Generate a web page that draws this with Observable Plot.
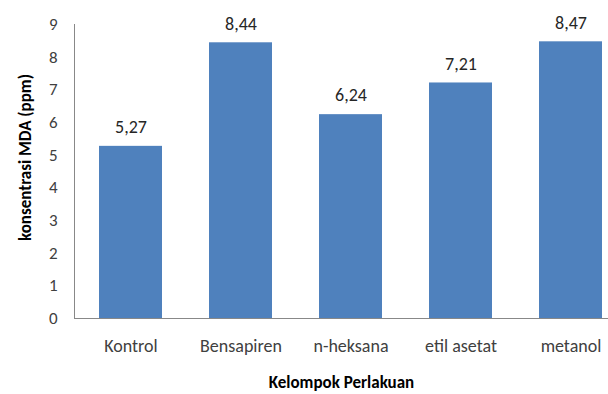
<!DOCTYPE html>
<html>
<head>
<meta charset="utf-8">
<script src="https://cdn.jsdelivr.net/npm/d3@7"></script>
<script src="https://cdn.jsdelivr.net/npm/@observablehq/plot@0.6"></script>
<style>
  html, body { margin: 0; padding: 0; background: #fff; }
  svg { font-family: Carlito, Lato, "Open Sans", sans-serif; }
</style>
</head>
<body>
<div id="chart"></div>
<script>
const categories = ["Kontrol", "Bensapiren", "n-heksana", "etil asetat", "metanol"];
const values = [5.27, 8.44, 6.24, 7.21, 8.47];
const yTicks = [0, 1, 2, 3, 4, 5, 6, 7, 8, 9];
const xTitle = "Kelompok Perlakuan";
const yTitle = "konsentrasi MDA (ppm)";

const data = categories.map((c, i) => ({ c, v: values[i] }));
const fmt = v => v.toFixed(2).replace(".", ",");

const chart = Plot.plot({
  width: 608,
  height: 394,
  marginTop: 24,
  marginBottom: 76,
  marginLeft: 74,
  marginRight: 0,
  style: { fontSize: "15px", color: "#404040", background: "#fff" },
  x: { domain: categories, range: [74, 627], paddingInner: 0.43, paddingOuter: 0.215 },
  y: { domain: [0, 9] },
  marks: [
    Plot.axisY({ ticks: yTicks, tickSize: 0, tickPadding: 17, label: null, fill: "#404040", fontSize: 17 }),
    Plot.axisX({ tickSize: 0, tickPadding: 21, label: null, fill: "#404040", fontSize: 18 }),
    Plot.barY(data, { x: "c", y: "v", fill: "#4F81BD" }),
    Plot.ruleY([0], { stroke: "#888" }),
    Plot.frame({ anchor: "left", stroke: "#888" }),
    Plot.text(data, { x: "c", y: "v", text: d => fmt(d.v), dy: -19, fontSize: 18, fill: "#262626" }),
    Plot.text([xTitle], { frameAnchor: "bottom", dy: 69, fontWeight: "bold", fontSize: 17, fill: "#000" }),
    Plot.text([yTitle], { frameAnchor: "left", textAnchor: "middle", rotate: -90, dx: -49, dy: -14, fontWeight: "bold", fontSize: 17, fill: "#000" })
  ]
});
document.getElementById("chart").appendChild(chart);
</script>
</body>
</html>
